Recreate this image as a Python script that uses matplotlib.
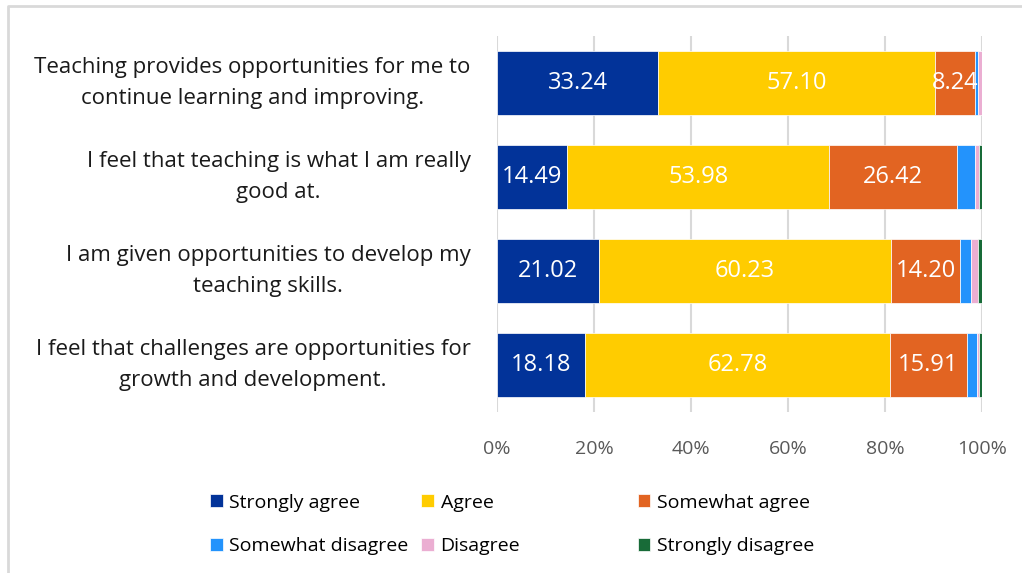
import matplotlib.pyplot as plt
import numpy as np
from matplotlib.lines import Line2D
from matplotlib.patches import Patch

plt.rcParams['font.family'] = ['Open Sans', 'DejaVu Sans']

# Preguntas (de arriba hacia abajo)
preguntas = [
    "Teaching provides opportunities for me to\ncontinue learning and improving.",
    "I feel that teaching is what I am really\ngood at.",
    "I am given opportunities to develop my\nteaching skills.",
    "I feel that challenges are opportunities for\ngrowth and development.",
]

# Porcentajes por respuesta
strongly_agree = [33.24, 14.49, 21.02, 18.18]
agree = [57.10, 53.98, 60.23, 62.78]
somewhat_agree = [8.24, 26.42, 14.20, 15.91]
somewhat_disagree = [0.57, 3.69, 2.27, 1.99]
disagree = [0.85, 0.85, 1.42, 0.57]
strongly_disagree = [0.00, 0.57, 0.85, 0.57]

series = [
    ("Strongly agree", strongly_agree, "#023399", True),
    ("Agree", agree, "#FFCC00", True),
    ("Somewhat agree", somewhat_agree, "#E26422", True),
    ("Somewhat disagree", somewhat_disagree, "#2393FC", False),
    ("Disagree", disagree, "#EBAED2", False),
    ("Strongly disagree", strongly_disagree, "#186B38", False),
]

fig = plt.figure(figsize=(10.22, 5.73), dpi=100)
ax = fig.add_axes([0.4863, 0.2810, 0.4746, 0.6562])

y = np.arange(len(preguntas))
izq = np.zeros(len(preguntas))
for nombre, valores, color, etiqueta in series:
    valores = np.array(valores)
    barras = ax.barh(y, valores, left=izq, height=0.68, color=color,
                     edgecolor='white', linewidth=0.5, label=nombre)
    if etiqueta:
        ax.bar_label(barras, labels=['%.2f' % v for v in valores],
                     label_type='center', color='white', fontsize=17)
    izq += valores

ax.set_xlim(0, 100)
ax.set_ylim(len(preguntas) - 0.5, -0.5)
ax.set_xticks(np.arange(0, 101, 20))
ax.set_xticklabels(['%d%%' % t for t in range(0, 101, 20)])
ax.set_yticks(y)
ax.set_yticklabels(preguntas, multialignment='center', fontsize=16,
                   color='#1a1a1a', linespacing=1.6, va='center')
ax.tick_params(axis='x', length=0, pad=20, labelsize=14, labelcolor='#595959')
ax.tick_params(axis='y', length=0, pad=19)
ax.grid(axis='x', color='#d9d9d9', linewidth=1.5)
ax.set_axisbelow(True)
for s in ax.spines.values():
    s.set_visible(False)

# Leyenda en tres columnas
handles = [Patch(facecolor=c, edgecolor='white', linewidth=0.5, label=n)
           for n, _, c, _ in series]
col_x = [0.2055, 0.412, 0.624]
for j in range(3):
    fig.legend(handles=[handles[j], handles[j + 3]], loc='upper left',
               bbox_to_anchor=(col_x[j], 0.1385), bbox_transform=fig.transFigure,
               frameon=False, fontsize=14, handlelength=0.65, handleheight=0.65,
               handletextpad=0.35, labelspacing=1.3, borderaxespad=0,
               borderpad=0)

# Marco gris
fig.add_artist(Line2D([8 / 1022, 8 / 1022, 1.0], [0.0, 1 - 6 / 573, 1 - 6 / 573],
                      transform=fig.transFigure, color='#d9d9d9', linewidth=2))

fig.savefig('out.png', dpi=100)
